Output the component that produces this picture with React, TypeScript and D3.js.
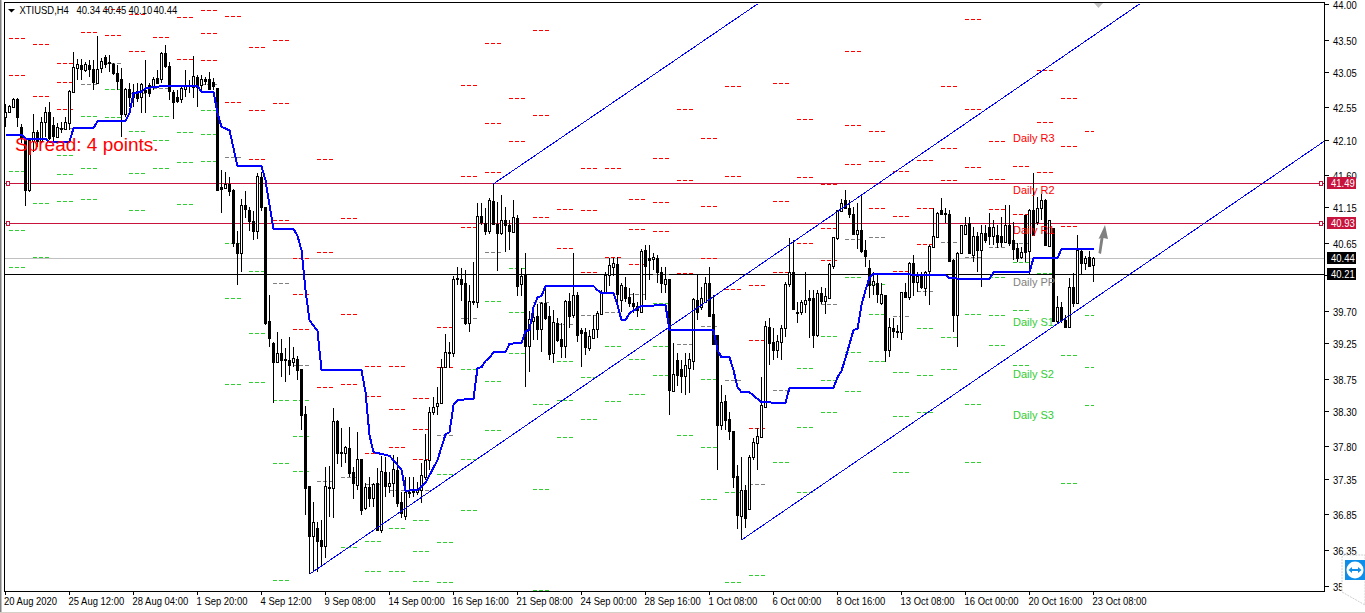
import React from "react";
import * as d3 from "d3";

const opens = [
42.42,42.49,42.56,42.67,42.28,42.09,41.39,42.09,42.21,42.09,
42.35,42.49,42.30,42.14,42.26,42.25,42.33,42.77,43.10,43.15,
43.08,43.15,43.09,42.89,43.10,43.26,43.19,43.16,43.03,42.95,
42.46,42.81,42.70,42.78,42.70,42.80,42.86,42.84,42.96,42.95,
43.31,43.13,42.77,42.70,42.67,42.82,42.87,42.84,42.98,42.87,
42.95,42.95,42.91,42.82,41.44,41.42,41.48,41.39,40.65,40.51,
41.18,41.11,40.96,40.82,41.58,41.16,39.56,39.25,38.98,39.11,
39.03,39.01,38.98,39.03,38.89,38.26,37.25,36.55,36.66,36.49,
36.41,37.23,37.22,38.16,37.72,37.71,37.78,37.44,37.25,37.62,
36.94,37.23,37.07,37.29,36.63,37.44,37.25,37.29,37.47,37.02,
36.83,37.15,37.18,37.16,37.19,37.37,37.61,38.28,38.37,38.41,
38.91,39.12,39.11,40.16,40.15,40.09,39.53,39.84,39.82,41.03,
40.93,40.82,41.24,40.92,40.79,40.97,40.90,40.81,41.00,40.08,
40.20,39.21,39.56,39.63,39.45,39.81,39.63,39.11,39.53,39.31,
39.21,39.84,39.64,39.92,39.43,39.40,39.18,39.33,39.45,39.66,
39.95,40.20,40.32,40.36,39.85,40.03,39.89,39.81,39.77,39.68,
40.55,40.44,40.43,40.44,40.25,40.08,40.15,38.58,39.01,38.89,
38.79,38.91,39.00,39.85,39.75,39.82,40.09,39.66,39.36,38.10,
38.44,38.19,38.02,37.39,36.83,37.19,36.92,37.65,37.85,37.93,
38.35,39.47,39.26,39.15,39.26,39.46,40.08,40.25,39.66,39.68,
39.80,39.88,39.88,39.36,39.95,39.84,39.88,40.33,40.72,41.10,
41.25,41.14,41.06,40.78,40.83,40.55,40.30,40.06,40.09,39.81,
39.92,39.15,39.46,39.42,39.40,39.96,39.89,40.37,40.11,40.19,
40.03,40.26,40.59,40.74,41.11,41.07,41.06,40.41,39.64,40.51,
40.78,40.93,40.48,40.75,40.55,40.79,40.88,40.75,40.76,40.75,
40.66,40.90,40.70,40.58,40.45,41.04,40.54,41.11,40.95,41.14,
41.25,40.61,40.86,39.56,39.75,39.57,39.47,40.03,39.81,40.54,
40.37,40.45,40.34];

const highs = [
42.60,42.58,42.68,42.68,42.32,42.12,42.12,42.46,42.23,42.42,
42.56,42.63,42.42,42.33,42.35,42.42,42.80,43.33,43.23,43.23,
43.19,43.22,43.22,43.55,43.24,43.29,43.29,43.17,43.15,43.10,
42.82,42.89,42.88,42.89,42.89,43.22,42.89,42.98,43.08,43.33,
43.43,43.19,42.80,42.80,42.87,43.08,42.94,43.27,43.01,43.01,
42.98,43.05,42.96,42.83,41.67,41.65,41.58,41.41,40.82,41.27,
41.38,41.16,41.10,41.63,41.65,41.16,39.92,39.26,39.40,39.31,
39.18,39.33,39.19,39.07,38.89,38.37,37.25,37.02,36.74,36.77,
37.51,37.53,38.34,38.17,38.06,37.81,38.07,37.51,38.00,37.62,
37.29,37.37,37.29,37.50,37.67,37.65,37.44,37.68,37.65,37.16,
37.37,37.37,37.37,37.30,37.57,37.98,38.35,38.49,38.63,39.03,
39.38,39.26,40.19,40.31,40.30,40.27,40.06,40.38,41.21,41.21,
41.14,41.28,41.48,41.23,41.32,41.16,40.97,41.25,41.04,40.30,
40.51,39.70,39.78,39.80,39.82,40.03,39.77,39.71,39.60,39.53,
39.85,39.95,40.51,39.96,39.46,39.46,39.43,39.64,39.70,39.99,
40.25,40.44,40.44,40.45,40.09,40.17,40.02,39.95,39.82,40.57,
40.62,40.62,40.51,40.48,40.31,40.31,40.15,39.25,39.11,39.01,
39.11,39.11,39.88,40.22,40.03,40.17,40.31,39.92,39.36,38.66,
38.52,38.28,38.02,37.54,37.65,37.26,37.68,37.92,38.06,38.77,
39.56,39.60,39.46,39.36,39.50,40.11,40.72,40.69,39.82,39.85,
40.25,39.99,39.99,39.99,40.03,40.02,40.37,40.74,41.11,41.27,
41.39,41.25,41.16,41.21,41.34,40.69,40.41,40.25,40.23,40.09,
39.92,39.60,39.60,39.50,39.96,40.09,40.39,40.48,40.25,40.25,
40.26,40.62,41.14,41.09,41.28,41.14,41.11,40.43,40.53,40.90,
41.02,41.02,40.88,40.81,40.90,40.90,41.07,40.97,40.90,41.02,
41.18,41.18,40.95,40.65,40.60,41.04,41.13,41.63,41.30,41.34,
41.27,40.97,40.86,39.91,39.82,39.64,40.16,40.23,40.76,40.55,
40.47,40.54,40.45];

const lows = [
42.28,42.47,42.55,42.28,42.05,41.17,41.37,41.93,42.00,42.05,
42.14,42.09,42.08,42.12,42.19,42.24,42.24,42.77,42.94,42.94,
43.05,42.98,42.80,42.89,43.03,43.10,43.05,43.00,42.80,42.14,
42.42,42.56,42.56,42.63,42.47,42.47,42.70,42.80,42.88,42.89,
43.10,42.65,42.39,42.61,42.61,42.70,42.75,42.68,42.56,42.80,
42.87,42.80,42.80,41.38,41.07,41.41,41.31,40.60,40.06,40.24,
41.00,40.82,40.69,40.71,41.10,39.50,39.19,38.41,38.98,38.77,
38.70,38.80,38.91,38.73,38.03,36.84,36.01,36.06,36.04,36.14,
36.24,36.81,36.80,37.55,37.51,37.57,37.37,37.07,37.19,36.84,
36.91,36.95,36.95,36.62,36.59,37.09,37.15,37.09,36.95,36.80,
36.77,37.08,37.09,37.12,37.01,37.33,37.47,38.24,38.24,38.40,
38.90,38.90,39.05,40.06,39.84,39.50,39.40,39.78,39.74,40.90,
40.76,40.78,40.90,40.26,40.76,40.53,40.55,40.79,39.91,39.91,
38.63,38.84,39.29,39.29,39.12,39.57,39.01,38.97,39.26,39.04,
39.04,39.46,39.60,39.26,38.91,39.08,39.14,39.32,39.32,39.64,
39.94,40.05,40.19,39.78,39.68,39.82,39.75,39.67,39.61,39.67,
39.85,40.13,40.27,40.09,39.95,39.95,38.24,38.56,38.65,38.55,
38.52,38.55,38.87,39.57,39.71,39.81,39.63,39.24,37.47,38.03,
38.03,37.89,37.22,36.64,36.49,36.66,36.91,37.61,37.47,37.92,
38.34,38.94,39.01,39.04,39.01,39.34,40.03,39.73,39.53,39.64,
39.67,39.32,39.18,39.34,39.80,39.66,39.88,40.29,40.69,41.10,
41.13,41.00,40.78,40.57,40.51,40.32,39.88,39.92,39.81,39.78,
38.98,39.05,39.32,39.32,39.29,39.88,39.85,39.91,39.97,40.01,
39.91,39.78,40.59,40.72,41.04,40.93,40.39,39.40,39.19,40.50,
40.76,40.51,40.39,40.25,40.03,40.65,40.62,40.62,40.58,40.59,
40.66,40.61,40.41,40.39,40.43,40.39,40.21,40.75,40.90,40.97,
40.61,40.60,39.55,39.53,39.53,39.47,39.47,39.75,39.80,40.20,
40.27,40.31,40.10];

const closes = [
42.49,42.57,42.67,42.42,42.12,41.39,42.09,42.21,42.09,42.35,
42.49,42.12,42.14,42.28,42.25,42.35,42.78,43.12,43.16,43.09,
43.16,43.09,42.91,43.09,43.20,43.16,43.17,43.03,42.92,42.46,
42.81,42.70,42.77,42.68,42.88,42.77,42.75,42.95,42.89,43.31,
43.13,42.78,42.63,42.65,42.82,42.87,42.85,42.99,42.84,42.95,
42.92,42.81,42.85,41.39,41.41,41.48,41.38,40.65,40.51,41.18,
41.13,40.95,40.82,41.59,41.16,39.54,39.32,38.98,39.11,39.01,
39.01,38.94,39.04,38.87,38.24,37.22,36.55,36.74,36.48,36.41,
37.25,37.22,38.16,37.71,37.70,37.79,37.43,37.29,37.62,36.90,
37.23,37.08,37.27,36.63,37.46,37.25,37.29,37.48,37.01,36.87,
37.16,37.16,37.16,37.19,37.40,37.61,38.28,38.35,38.41,38.91,
39.12,39.11,40.15,40.15,40.08,39.53,39.84,39.82,41.03,40.95,
40.82,41.25,40.92,40.79,40.97,40.90,40.81,41.02,40.05,40.19,
39.21,39.59,39.61,39.45,39.81,39.60,39.10,39.54,39.29,39.21,
39.84,39.63,39.92,39.36,39.39,39.19,39.35,39.45,39.67,39.95,
40.20,40.34,40.37,39.94,40.06,39.87,39.81,39.77,39.71,40.54,
40.33,40.41,40.46,40.25,40.09,40.15,38.59,38.82,38.80,38.79,
38.94,39.03,39.87,39.68,39.88,40.09,39.63,39.24,38.10,38.42,
38.17,38.02,37.37,36.84,37.19,36.80,37.65,37.86,37.95,38.38,
39.49,39.24,39.15,39.28,39.46,40.08,40.25,39.73,39.68,39.82,
39.85,39.85,39.36,39.95,39.84,39.91,40.36,40.73,41.11,41.21,
41.14,41.06,40.78,40.83,40.53,40.47,40.06,40.12,39.94,39.94,
39.15,39.47,39.42,39.40,39.96,39.89,40.37,40.11,40.19,40.03,
40.25,40.61,40.75,41.07,41.06,41.06,40.40,39.64,40.51,40.90,
40.90,40.51,40.75,40.55,40.79,40.69,40.75,40.88,40.66,40.66,
40.90,40.65,40.57,40.44,40.52,40.52,41.11,40.76,41.14,41.25,
40.62,40.97,39.55,39.75,39.57,39.47,40.03,39.81,40.55,40.37,
40.44,40.33,40.44];

const trendBars = [0,4,5,10,11,16,17,22,23,30,31,32,34,35,38,39,48,49,52,53,54,56,58,64,65,66,67,72,73,74,75,76,78,79,89,90,91,92,96,98,99,100,103,105,108,110,111,112,113,117,118,119,120,121,122,125,126,129,130,131,132,133,134,135,147,148,149,152,153,154,155,156,159,165,166,177,178,179,181,182,183,184,186,189,195,196,207,208,209,210,212,213,214,215,216,217,235,236,239,246,247,256,257,263,264,272];
const trendValues = [42.17,42.17,42.11,42.11,42.07,42.07,42.26,42.26,42.36,42.36,42.47,42.75,42.77,42.82,42.84,42.85,42.85,42.77,42.77,42.47,42.28,42.23,41.73,41.73,41.53,41.18,40.85,40.85,40.75,40.55,39.99,39.57,39.42,38.87,38.87,38.56,37.96,37.72,37.67,37.54,37.47,37.18,37.19,37.29,37.61,37.97,38.00,38.38,38.45,38.47,38.90,38.91,39.00,39.04,39.12,39.12,39.24,39.25,39.42,39.43,39.75,39.89,39.91,40.05,40.05,39.99,39.95,39.95,39.78,39.57,39.57,39.67,39.77,39.78,39.43,39.43,39.15,39.05,39.05,38.87,38.63,38.56,38.56,38.42,38.41,38.62,38.62,38.77,38.86,39.04,39.43,39.45,39.78,39.99,40.17,40.22,40.20,40.16,40.15,40.15,40.24,40.24,40.44,40.44,40.57,40.57];

const channelFromBar = [76, 122, 184];
const channelFromPrice = [36.01, 41.48, 36.49];
const channelToBar = [283.5, 188, 329.75];
const channelToPrice = [44.0, 44.0, 42.08];

const dayBars = [1,7,13,19,25,31,37,43,49,55,61,67,72,78,84,90,96,102,108,114,120,126,132,138,144,150,156,162,168,174,180,186,192,198,204,210,216,222,228,234,240,246,252,258,264,270];

const pivotResistance = [
[43.52,43.00],[43.44,42.71],[43.17,42.91,42.53],[43.61],[43.93,43.57],[43.86,43.34],[43.54],[43.82,43.23],[43.92,43.59,43.22],[43.83,42.63],
[43.40,42.51,41.83],[43.50,42.61,40.97],[40.44,39.94,39.45],[41.83,40.53,38.63],[41.00,39.66,38.68],[38.93,38.51,37.71],[38.93,38.33,37.79],[38.48,38.05,37.63],[39.47,38.91],[42.87,41.59,40.88],
[43.45,42.33,41.65],[42.68,42.08],[43.63,42.45,41.02],[41.13,40.58],[41.70,41.11,40.25],[41.70,40.46],[41.27,40.85,40.36],[41.84,41.23,40.82],[42.53,41.53,40.23],[42.12,41.17,40.44],
[42.85,41.59,40.01],[40.06,39.29,38.06],[42.89,41.24,40.25],[42.39,41.58,40.65],[41.48,40.86,40.41],[43.34,42.30,41.76],[42.22,41.80,41.14],[41.66,41.03,40.26],[41.81,41.14,40.64],[42.85,41.98,41.53],
[43.79,42.53,41.72],[42.08,41.55,41.13],[41.73,41.06],[43.08,42.35,41.65],[42.68,42.01,40.89],[42.22]];

const pivotCentre = [
[],[],[42.26],[42.88],[43.17],[42.75],[42.82],[],[42.88],[41.86],
[],[40.09],[38.94],[37.32],[37.37],[37.27],[37.19],[37.19],[37.96],[39.60],
[40.53],[],[39.82],[39.52],[39.64],[39.68],[39.94],[40.22],[39.24],[39.49],
[38.73],[37.27],[38.59],[],[39.80],[40.71],[40.74],[39.63],[39.98],[40.66],
[40.46],[40.60],[40.65],[],[],[]];

const pivotSupport = [
[41.66,40.83,40.31],[41.21,40.46],[41.88,41.62,41.24],[42.43,41.70,41.27],[42.81,42.42],[42.22,41.63,41.11],[42.43,42.09,41.70],[42.21,41.79,41.20],[42.51,42.18,41.80],[40.65,39.88,38.68],
[40.26,39.39,38.70],[38.45,37.57,35.93],[38.45,37.95,37.46],[],[36.39],[36.48,36.06],[36.66,36.06],[36.77,36.34,35.92],[37.41,36.46,35.90],[38.89,37.63,36.91],
[39.84,38.72,38.03],[40.30,39.68,39.11],[38.40,37.21,35.79],[39.00,38.45,37.93],[38.77,38.19],[39.21,38.44],[39.45,39.03,38.54],[39.81,39.21,38.80],[37.96],[38.75,37.79,37.07],
[37.16,35.90],[36.00],[37.58],[38.90,38.07,37.16],[39.35,38.73,38.28],[40.17,39.12,38.58],[40.08,39.66,39.00],[38.84,38.23,37.44],[39.46,38.80,38.28],[39.33,38.89],
[39.66,38.40,37.58],[40.17,39.64,39.22],[40.39,39.71,38.94],[40.23],[39.08,37.29],[39.64,38.91,38.38]];

const timeLabels = ["20 Aug 2020","25 Aug 12:00","28 Aug 04:00","1 Sep 20:00","4 Sep 12:00","9 Sep 08:00","14 Sep 00:00","16 Sep 16:00","21 Sep 08:00","24 Sep 00:00","28 Sep 16:00","1 Oct 08:00","6 Oct 00:00","8 Oct 16:00","13 Oct 08:00","16 Oct 00:00","20 Oct 16:00","23 Oct 08:00"];
const priceTicks = [44.0,43.5,43.05,42.55,42.1,41.6,41.15,40.65,40.2,39.7,39.25,38.75,38.3,37.8,37.35,36.85,36.35,35.85];
const hiddenPriceTick = 40.2;

const levelLabels = ["Daily R3","Daily R2","Daily R1","Daily PP","Daily S1","Daily S2","Daily S3"];
const levelLabelPrices = [42.12,41.39,40.83,40.11,39.54,38.81,38.24];
const levelLabelColors = ["#ff0000","#ff0000","#ff0000","#808080","#32cd32","#32cd32","#32cd32"];

const quoteTitle = ["XTIUSD,H4","40.34","40.45","40.10","40.44"];
const quoteTitleBars = [3.5,17.75,24.25,30.75,37];

const tradeLevels = [41.49, 40.93];
const bidPrice = 40.44;
const stopPrice = 40.21;

const FRAME = { left: 4, top: 2, right: 1324, bottom: 591 };
const x = d3.scaleLinear().domain([0, 329.75]).range([5.5, 1324.5]);
const y = d3.scaleLinear().domain([44, 35.775]).range([4, 591]);
const snap = (v: number) => Math.round(v) + 0.5;
const snapX = (v: number) => Math.floor(v) + 0.5;
const UI_FONT = "'Liberation Sans',sans-serif";

const trendPath = d3
  .line<number>()
  .x((_, i) => x(trendBars[i]))
  .y((v) => y(v))(trendValues) as string;

function Label({ x: tx, y: ty, fill = "#000", children }: { x: number; y: number; fill?: string; children: React.ReactNode }) {
  return (
    <text transform={`translate(${tx},${ty}) scale(0.86,1)`} fill={fill} fontSize={11} fontFamily={UI_FONT}>
      {children}
    </text>
  );
}

function Dashes({ levels, color }: { levels: number[][]; color: string }) {
  return (
    <g stroke={color} strokeDasharray="4 2" shapeRendering="crispEdges">
      {levels.map((list, d) =>
        list.map((p, k) => {
          const x0 = Math.floor(x(dayBars[d]));
          const x1 = Math.min(x0 + 16, Math.floor(x(272)) + 1);
          return <line key={d + "-" + k} x1={x0} x2={x1} y1={snap(y(p))} y2={snap(y(p))} />;
        })
      )}
    </g>
  );
}

function PriceTag({ price, fill }: { price: number; fill: string }) {
  const cy = snap(y(price));
  return (
    <g>
      <rect x={1327} y={cy - 6.5} width={29} height={12} fill={fill} />
      <Label x={1331} y={cy + 3.5} fill="#fff">{price.toFixed(2)}</Label>
    </g>
  );
}

export default function App() {
  return (
    <svg width={1365} height={613} style={{ position: "absolute", left: 0, top: 0, background: "#fff", display: "block" }}>
      <rect x={0} y={0} width={1.5} height={613} fill="#808080" />
      <rect x={0} y={612} width={1365} height={1} fill="#d4d0c8" />

      {tradeLevels.map((p) => (
        <line key={p} x1={FRAME.left} x2={FRAME.right} y1={snap(y(p))} y2={snap(y(p))} stroke="#c8143c" shapeRendering="crispEdges" />
      ))}
      <line x1={FRAME.left} x2={FRAME.right} y1={snap(y(bidPrice))} y2={snap(y(bidPrice))} stroke="#c0c0c0" shapeRendering="crispEdges" />
      <line x1={FRAME.left} x2={FRAME.right} y1={snap(y(stopPrice))} y2={snap(y(stopPrice))} stroke="#000" shapeRendering="crispEdges" />

      <Dashes levels={pivotResistance} color="#ff0000" />
      <Dashes levels={pivotCentre} color="#808080" />
      <Dashes levels={pivotSupport} color="#32cd32" />

      <g shapeRendering="crispEdges">
        {opens.map((o, i) => {
          const cx = snapX(x(i));
          const top = y(Math.max(o, closes[i]));
          const bot = y(Math.min(o, closes[i]));
          const up = closes[i] >= o;
          return (
            <g key={i}>
              <line x1={cx} x2={cx} y1={y(highs[i])} y2={y(lows[i])} stroke="#000" />
              <rect x={cx - 1} y={snap(top)} width={2} height={Math.max(1, Math.round(bot - top))} fill={up ? "#fff" : "#000"} stroke="#000" />
            </g>
          );
        })}
      </g>

      <path d={trendPath} fill="none" stroke="#0000ff" strokeWidth={2} shapeRendering="crispEdges" />

      {channelFromBar.map((b, i) => (
        <line key={b} x1={x(b)} y1={y(channelFromPrice[i])} x2={x(channelToBar[i])} y2={y(channelToPrice[i])} stroke="#0000ff" strokeWidth={1} shapeRendering="crispEdges" />
      ))}

      {tradeLevels.map((p) => (
        <g key={p} fill="#fff" stroke="#c8143c" shapeRendering="crispEdges">
          <rect x={6.5} y={snap(y(p)) - 2} width={3} height={4} />
          <rect x={1319.5} y={snap(y(p)) - 2} width={3} height={4} />
        </g>
      ))}

      <polygon points="1105,225 1108,239 1103.5,238 1101,254 1098.5,253 1100.5,238 1098.5,239" fill="#808080" />
      <polygon points="1094,3 1103,3 1098.5,8" fill="#c0c0c0" />

      {levelLabels.map((t, i) => (
        <text key={t} x={1013} y={y(levelLabelPrices[i]) + 4} fill={levelLabelColors[i]} fontSize={11} fontFamily={UI_FONT}>{t}</text>
      ))}

      <text x={15} y={151} fill="#ff0000" fontSize={19} fontFamily={UI_FONT}>Spread: 4 points.</text>

      <polygon points="8,9 15,9 11.5,12.5" fill="#000" />
      {quoteTitle.map((t, i) => (
        <Label key={t + i} x={x(quoteTitleBars[i])} y={14}>{t}</Label>
      ))}

      <rect x={FRAME.left + 0.5} y={FRAME.top + 0.5} width={FRAME.right - FRAME.left} height={FRAME.bottom - FRAME.top} fill="none" stroke="#000" shapeRendering="crispEdges" />

      {timeLabels.map((t, i) => {
        const tx = snapX(x(i * 16));
        return (
          <g key={t}>
            <line x1={tx} x2={tx} y1={591} y2={595} stroke="#000" shapeRendering="crispEdges" />
            <Label x={i === 0 ? 4 : tx - 1} y={605}>{t}</Label>
          </g>
        );
      })}

      {priceTicks.map((p) => (
        <g key={p}>
          <line x1={1325} x2={1329} y1={snap(y(p))} y2={snap(y(p))} stroke="#000" shapeRendering="crispEdges" />
          {p !== hiddenPriceTick && <Label x={1333} y={snap(y(p)) + 4}>{p.toFixed(2)}</Label>}
        </g>
      ))}

      <PriceTag price={tradeLevels[0]} fill="#c8143c" />
      <PriceTag price={tradeLevels[1]} fill="#c8143c" />
      <PriceTag price={bidPrice} fill="#000" />
      <PriceTag price={stopPrice} fill="#000" />

      <path d="M1342 558 Q1342 555 1345 555 L1365 555 L1365 605 L1342 592 Z" fill="#fff" stroke="#cfcfcf" strokeDasharray="2 1" />
      <rect x={1345} y={560} width={20} height={20} fill="#0e8ee9" />
      <circle cx={1355} cy={570} r={8.5} fill="#fff" />
      <path d="M1348.5 570 L1352 567 L1352 569 L1358 569 L1358 567 L1361.5 570 L1358 573 L1358 571 L1352 571 L1352 573 Z" fill="#0e8ee9" />
    </svg>
  );
}
